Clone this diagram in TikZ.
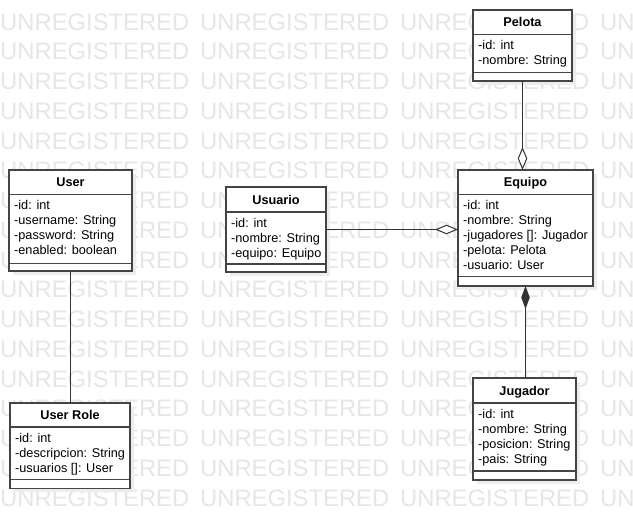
\documentclass[tikz,border=0pt]{standalone}
\usepackage{fontspec}
\setmainfont{Liberation Sans}
\usetikzlibrary{arrows.meta}
\definecolor{wmark}{HTML}{E6E6E6}
\definecolor{shadowc}{HTML}{EDEDED}
\definecolor{boxc}{HTML}{444444}
\definecolor{connc}{HTML}{333333}
\tikzset{
  classbox/.style={draw=boxc, line width=1.3pt, fill=white, inner sep=0pt, outer sep=0pt},
  boxline/.style={draw=boxc, line width=1.3pt},
  titletext/.style={inner sep=0pt, font=\fontsize{12.7}{15}\selectfont\bfseries},
  attrtext/.style={inner sep=0pt, font=\fontsize{12.7}{15}\selectfont},
  wmtext/.style={inner sep=0pt, anchor=base west, text=wmark, font=\fontsize{23.8}{28}\selectfont},
  conn/.style={draw=connc, line width=1pt},
  aggr/.style={-{Diamond[length=23pt,width=9.5pt,fill=white]}},
  comp/.style={{Diamond[length=23pt,width=8.5pt]}-},
}
\newcommand\umlclass[9]{%
  \fill[shadowc] (#2+4,#3+4) rectangle (#4+4,#7+4);
  \node[classbox, minimum width={#4-#2}, minimum height={#7-#3}, anchor=north west] (#1) at (#2,#3) {};
  \draw[boxline] (#2,#5) -- (#4,#5);
  \draw[boxline] (#2,#6) -- (#4,#6);
  \node[titletext, anchor=base] (#1-title) at ({(#2+#4)/2},{(#3+#5)/2+4.6}) {#8};
  \foreach \a [count=\i] in {#9} {
    \node[attrtext, anchor=base west] (#1-attr\i) at ({#2+5},{#5+15.2+15*(\i-1)}) {\a};
  }%
}
\begin{document}
\begin{tikzpicture}[x=1pt,y=-1pt]
\useasboundingbox (0,0) rectangle (633,529);
\fill[white] (0,0) rectangle (633,529);
% watermark
\begin{scope}
\clip (0,0) rectangle (633,529);
\foreach \k in {0,...,16} {
  \node[wmtext] (wm\k) at (0,{30.1+29.75*\k}) {\makebox[200pt][l]{UNREGISTERED}\makebox[200pt][l]{UNREGISTERED}\makebox[200pt][l]{UNREGISTERED}UN};
}
\end{scope}
% classes
\umlclass{user}{9}{170}{132}{194.3}{263.3}{271}{User}{-id: int,-username: String,-password: String,-enabled: boolean}
\umlclass{usuario}{226}{187}{326}{212}{264}{272}{Usuario}{-id: int,-nombre: String,-equipo: Equipo}
\umlclass{pelota}{473}{10}{572}{34.3}{72.7}{81}{Pelota}{-id: int,-nombre: String}
\umlclass{equipo}{458}{170}{593}{194.3}{276.7}{286}{Equipo}{-id: int,-nombre: String,-jugadores []: Jugador,-pelota: Pelota,-usuario: User}
\umlclass{jugador}{473}{378}{576}{403}{471}{480}{Jugador}{-id: int,-nombre: String,-posicion: String,-pais: String}
\umlclass{userrole}{10}{403}{130}{427}{479.3}{488.3}{User Role}{-id: int,-descripcion: String,-usuarios []: User}
% connectors
\draw[conn] (user.south) -- (user.south |- userrole.north);
\draw[conn, aggr] (pelota.south) -- (pelota.south |- equipo.north);
\draw[conn, aggr] (usuario.east) -- (usuario.east -| equipo.west);
\draw[conn, comp] (equipo.south) -- (equipo.south |- jugador.north);
\end{tikzpicture}
\end{document}
